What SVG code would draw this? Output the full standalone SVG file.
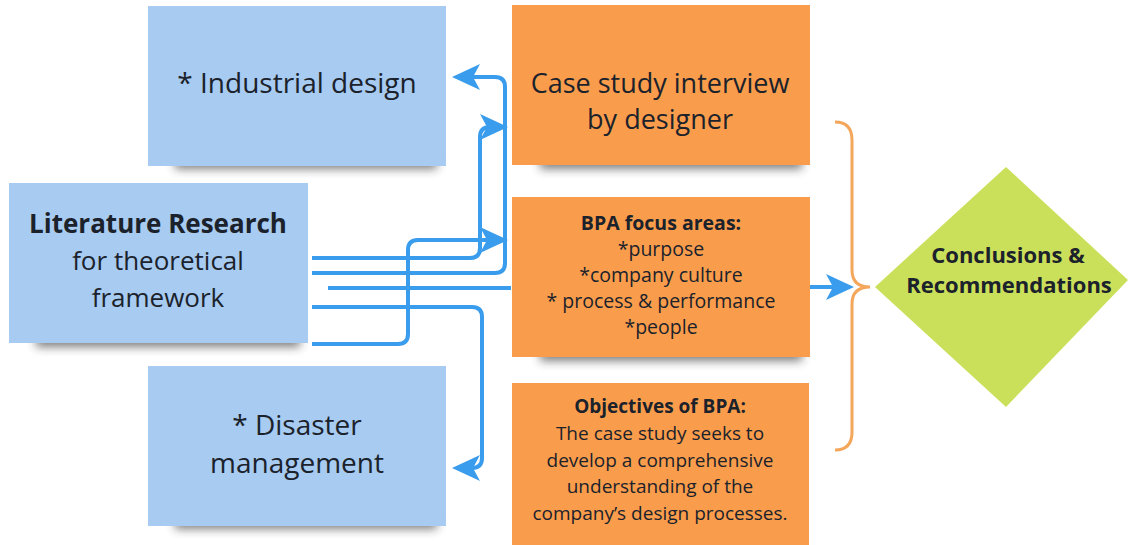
<svg xmlns="http://www.w3.org/2000/svg" width="1129" height="545" viewBox="0 0 1129 545">
<style>
.blue{fill:#a7cbf1}
.orange{fill:#f99d4c}
.shadow{fill:#2a2a2a;opacity:.6;filter:url(#blur)}
.t{font-family:"Open Sans","Liberation Sans",sans-serif;fill:#1b222b;text-anchor:middle}
.big{font-size:28px}
.case{font-size:27px}
.lit{font-size:26px}
.sm{font-size:19.5px}
.ob{font-size:19px}
.b{font-weight:bold}
.conn{fill:none;stroke:#3a9cec;stroke-width:4;stroke-linejoin:round}
</style>
<defs>
<filter id="blur" x="-20%" y="-100%" width="140%" height="300%"><feGaussianBlur stdDeviation="5"/></filter>
<marker id="ah" viewBox="0 0 28 28" refX="20" refY="14" markerWidth="28" markerHeight="28" markerUnits="userSpaceOnUse" orient="auto"><path d="M0,1 L28,14 L0,27 L7,14 Z" fill="#3a9cec"/></marker>
</defs>
<rect width="1129" height="545" fill="#ffffff"/>

<g id="industrial-design">
<rect class="shadow" x="175" y="155" width="262" height="14"/>
<rect class="blue" x="148" y="6" width="298" height="160"/>
<text class="t big" x="297" y="93">* Industrial design</text>
</g>

<g id="literature-research">
<rect class="shadow" x="36" y="333" width="264" height="14"/>
<rect class="blue" x="9" y="183" width="299" height="160"/>
<text class="t lit b" x="158" y="233">Literature Research</text>
<text class="t lit" x="158" y="270">for theoretical</text>
<text class="t lit" x="158" y="307">framework</text>
</g>

<g id="disaster-management">
<rect class="shadow" x="175" y="515" width="262" height="14"/>
<rect class="blue" x="148" y="366" width="298" height="160"/>
<text class="t big" x="297" y="435">* Disaster</text>
<text class="t big" x="297" y="473">management</text>
</g>

<g id="case-study">
<rect class="shadow" x="540" y="155" width="262" height="14"/>
<rect class="orange" x="512" y="5" width="298" height="160"/>
<text class="t case" x="660" y="93">Case study interview</text>
<text class="t case" x="660" y="129">by designer</text>
</g>

<g id="bpa-focus">
<rect class="shadow" x="540" y="347" width="262" height="14"/>
<rect class="orange" x="512" y="197" width="298" height="160"/>
<text class="t sm b" x="661" y="230">BPA focus areas:</text>
<text class="t sm" x="661" y="256">*purpose</text>
<text class="t sm" x="661" y="282">*company culture</text>
<text class="t sm" x="661" y="308">* process &amp; performance</text>
<text class="t sm" x="661" y="334">*people</text>
</g>

<g id="bpa-objectives">
<rect class="orange" x="512" y="383" width="297" height="162"/>
<text class="t ob b" x="660" y="413">Objectives of BPA:</text>
<text class="t ob" x="660" y="440">The case study seeks to</text>
<text class="t ob" x="660" y="467">develop a comprehensive</text>
<text class="t ob" x="660" y="493">understanding of the</text>
<text class="t ob" x="660" y="520">company’s design processes.</text>
</g>

<g id="conclusions">
<polygon points="1006,167 1128,280 1006,407 875,287" fill="#cbe05a"/>
<text class="t b" font-size="22" x="1008" y="263">Conclusions &amp;</text>
<text class="t b" font-size="22" x="1009" y="293">Recommendations</text>
</g>

<g id="brace">
<path d="M835,122 Q852,122 852,140 V270 Q852,287 870,287 Q852,287 852,304 V432 Q852,450 835,450" fill="none" stroke="#f4a65a" stroke-width="3"/>
</g>

<g id="connectors">
<path class="conn" d="M312,258 H470 Q480,258 480,248 V137 Q480,127 490,127 H500" marker-end="url(#ah)"/>
<path class="conn" d="M312,273 H495 Q505,273 505,263 V87 Q505,77 495,77 H460" marker-end="url(#ah)"/>
<path class="conn" d="M328,288 H511"/>
<path class="conn" d="M312,307 H472 Q482,307 482,317 V458 Q482,468 472,468 H460" marker-end="url(#ah)"/>
<path class="conn" d="M312,344 H398 Q408,344 408,334 V250 Q408,240 418,240 H500" marker-end="url(#ah)"/>
<path class="conn" d="M810,287 H846" marker-end="url(#ah)"/>
</g>
</svg>
